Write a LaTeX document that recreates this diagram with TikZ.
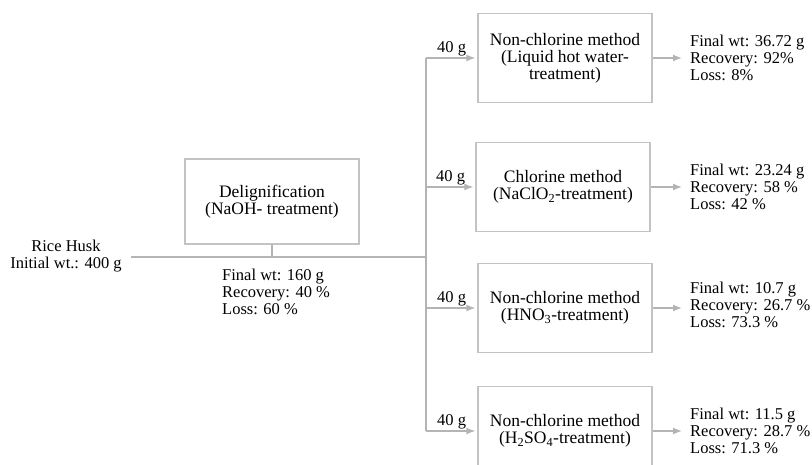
\documentclass[tikz,border=0pt]{standalone}
\usepackage{fontspec}
\setmainfont{Liberation Serif}
\usepackage{tikz}
\usetikzlibrary{calc, shapes, arrows, arrows.meta}
\definecolor{linegray}{RGB}{180,180,180}
\definecolor{boxgray}{RGB}{195,195,195}

\begin{document}
\begin{tikzpicture}[x=1pt,y=-1pt]
\tikzstyle{line} = [draw=linegray, line width=1.3pt, -{Latex[length=9pt,width=7pt]}]
\tikzstyle{link} = [draw=linegray, line width=1.3pt]
\tikzstyle{vertex}=[rectangle,draw=boxgray,line width=1.3pt,minimum width=174pt,minimum height=89pt,inner sep=2pt,align=center,font=\fontsize{17.5}{17}\selectfont]
\tikzstyle{info}=[align=left,anchor=west,inner sep=0pt,font=\fontsize{16.5}{17}\selectfont]
\tikzstyle{amount}=[above,inner sep=1pt,font=\fontsize{16.5}{17}\selectfont]
\useasboundingbox (0,0) rectangle (812,465);
% feed and first step
\node[info,anchor=center,align=center] (S_0) at (66,256) {Rice Husk\\Initial wt.: 400 g};
\node[vertex,minimum height=85pt] (B_0) at (272,201.5) {Delignification\\(NaOH- treatment)};
\node[info] (R_0) at (222,292) {Final wt: 160 g\\Recovery: 40 \%\\Loss: 60 \%};
% bleaching methods
\node[vertex] (B_1) at (565,58) {Non-chlorine method\\(Liquid hot water-\\treatment)};
\node[vertex] (B_2) at (563,187) {Chlorine method\\(NaClO\textsubscript{2}-treatment)};
\node[vertex] (B_3) at (565,308) {Non-chlorine method\\(HNO\textsubscript{3}-treatment)};
\node[vertex] (B_4) at (565,431) {Non-chlorine method\\(H\textsubscript{2}SO\textsubscript{4}-treatment)};
\node[info] (R_1) at (690,58) {Final wt: 36.72 g\\Recovery: 92\%\\Loss: 8\%};
\node[info] (R_2) at (690,187) {Final wt: 23.24 g\\Recovery: 58 \%\\Loss: 42 \%};
\node[info] (R_3) at (690,305) {Final wt: 10.7 g\\Recovery: 26.7 \%\\Loss: 73.3 \%};
\node[info] (R_4) at (690,431) {Final wt: 11.5 g\\Recovery: 28.7 \%\\Loss: 71.3 \%};
% splitting line
\coordinate (L_0) at (131,257);
\coordinate (T_0) at (426,257);
\coordinate (T_1) at (B_1.west -| T_0);
\coordinate (T_2) at (B_2.west -| T_0);
\coordinate (T_3) at (B_3.west -| T_0);
\coordinate (T_4) at (B_4.west -| T_0);
\path [link] (L_0) -- (T_0);
\path [link] (B_0.south) -- (B_0.south |- T_0);
\path [link] (T_1) -- (T_4);
\path [line,shorten >=2pt] (T_1) -- node[amount] {40 g} (B_1.west);
\path [line,shorten >=2pt] (T_2) -- node[amount] {40 g} (B_2.west);
\path [line,shorten >=2pt] (T_3) -- node[amount] {40 g} (B_3.west);
\path [line,shorten >=2pt] (T_4) -- node[amount] {40 g} (B_4.west);
\path [line,shorten >=8pt] (B_1.east) -- (B_1.east -| R_1.west);
\path [line,shorten >=8pt] (B_2.east) -- (B_2.east -| R_2.west);
\path [line,shorten >=8pt] (B_3.east) -- (B_3.east -| R_3.west);
\path [line,shorten >=8pt] (B_4.east) -- (B_4.east -| R_4.west);
\end{tikzpicture}
\end{document}
